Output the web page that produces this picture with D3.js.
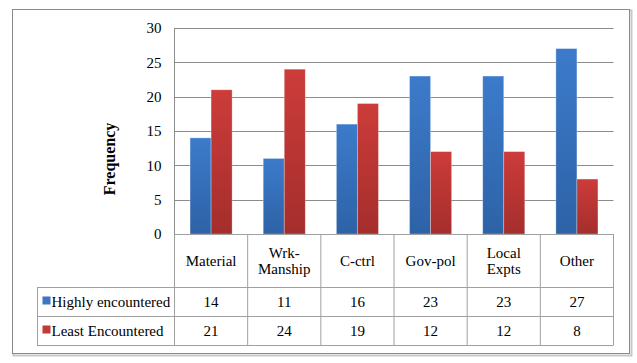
<!DOCTYPE html>
<html>
<head>
<meta charset="utf-8">
<script src="https://cdn.jsdelivr.net/npm/d3@7"></script>
<style>
  body { margin: 0; background: #fff; }
</style>
</head>
<body>
<svg id="chart" width="637" height="363"></svg>
<script>
const categories = ['Material', 'Wrk-\nManship', 'C-ctrl', 'Gov-pol', 'Local\nExpts', 'Other']
const seriesNames = ['Highly encountered', 'Least Encountered']
const highly = [14, 11, 16, 23, 23, 27]
const least = [21, 24, 19, 12, 12, 8]
const yTicks = [0, 5, 10, 15, 20, 25, 30]

const series = [highly, least]
const colors = [
	{ top: '#3c7bcb', bottom: '#2d62a6', key: '#3a76c4' },
	{ top: '#cc3c3a', bottom: '#a42e2c', key: '#c2393a' }
]
const FONT = '"Liberation Serif", "Times New Roman", "DejaVu Serif", serif'

const svg = d3.select('#chart')
const plot = { left: 174.5, right: 613.5, top: 28, bottom: 234 }
const rows = [234, 287, 316, 345]
const tableLeft = 37

const x = d3.scaleBand().domain(d3.range(categories.length)).range([plot.left, plot.right])
const inner = d3.scaleBand().domain([0, 1]).range([0, x.bandwidth()]).paddingOuter(0.74).paddingInner(0)
const y = d3.scaleLinear().domain([0, 30]).range([plot.bottom, plot.top])

// gradients
const defs = svg.append('defs')
colors.forEach((c, i) => {
	const g = defs.append('linearGradient').attr('id', 'grad' + i)
		.attr('x1', 0).attr('y1', 0).attr('x2', 0).attr('y2', 1)
	g.append('stop').attr('offset', '0%').attr('stop-color', c.top)
	g.append('stop').attr('offset', '100%').attr('stop-color', c.bottom)
})

// outer frame
svg.append('rect').attr('x', 13.5).attr('y', 10.5).attr('width', 618).attr('height', 345)
	.attr('fill', 'none').attr('stroke', '#c8c8c8').attr('stroke-width', 2)
svg.append('rect').attr('x', 12.5).attr('y', 9.5).attr('width', 617).attr('height', 344)
	.attr('fill', '#fff').attr('stroke', '#8a8a8a')

// gridlines
svg.append('g').selectAll('line').data(yTicks.filter(d => d > 0)).enter().append('line')
	.attr('x1', plot.left).attr('x2', plot.right)
	.attr('y1', d => Math.round(y(d)) + 0.5).attr('y2', d => Math.round(y(d)) + 0.5)
	.attr('stroke', '#8c8c8c')

// y axis
const yAxis = svg.append('g').attr('transform', `translate(${plot.left},0)`)
	.call(d3.axisLeft(y).tickValues(yTicks).tickSize(0).tickPadding(13))
yAxis.attr('font-family', null).attr('font-size', null)
yAxis.select('.domain').remove()
yAxis.selectAll('text').style('font-family', FONT).style('font-size', '15px')
svg.append('line').attr('x1', plot.left).attr('x2', plot.left)
	.attr('y1', plot.top).attr('y2', plot.bottom).attr('stroke', '#8c8c8c')

svg.append('text').attr('transform', 'translate(115,159) rotate(-90)')
	.attr('text-anchor', 'middle').style('font-family', FONT)
	.style('font-size', '16px').style('font-weight', 'bold')
	.text('Frequency')

// bars
series.forEach((vals, s) => {
	svg.append('g').selectAll('rect').data(vals).enter().append('rect')
		.attr('x', (d, i) => x(i) + inner(s))
		.attr('width', inner.bandwidth())
		.attr('y', d => y(d))
		.attr('height', d => y(0) - y(d))
		.attr('fill', `url(#grad${s})`)
		.attr('stroke', 'rgba(255,255,255,0.35)').attr('stroke-width', 0.8)
})

// data table
const tbl = svg.append('g').style('font-family', FONT).style('font-size', '15px')
const lineColor = '#a0a0a0'
rows.forEach((ry, i) => {
	tbl.append('line').attr('x1', i === 0 ? plot.left : tableLeft).attr('x2', plot.right)
		.attr('y1', ry + 0.5).attr('y2', ry + 0.5).attr('stroke', lineColor)
})
d3.range(categories.length + 1).forEach(i => {
	const vx = i < categories.length ? x(i) : plot.right
	tbl.append('line').attr('x1', vx).attr('x2', vx)
		.attr('y1', rows[0]).attr('y2', rows[3]).attr('stroke', lineColor)
})
tbl.append('line').attr('x1', tableLeft + 0.5).attr('x2', tableLeft + 0.5)
	.attr('y1', rows[1]).attr('y2', rows[3]).attr('stroke', lineColor)

// category labels
categories.forEach((c, i) => {
	const lines = c.split('\n')
	const cy = (rows[0] + rows[1]) / 2
	const t = tbl.append('text').attr('text-anchor', 'middle')
	lines.forEach((ln, j) => {
		t.append('tspan').attr('x', x(i) + x.bandwidth() / 2)
			.attr('y', cy + 5 + (j - (lines.length - 1) / 2) * 16)
			.text(ln)
	})
})

// series rows
series.forEach((vals, s) => {
	const cy = (rows[s + 1] + rows[s + 2]) / 2
	tbl.append('rect').attr('x', 42.5).attr('y', cy - 5).attr('width', 8).attr('height', 8)
		.attr('fill', colors[s].key)
	tbl.append('text').attr('x', 51.5).attr('y', cy + 5).text(seriesNames[s])
	vals.forEach((v, i) => {
		tbl.append('text').attr('x', x(i) + x.bandwidth() / 2).attr('y', cy + 5)
			.attr('text-anchor', 'middle').text(v)
	})
})
</script>
</body>
</html>
